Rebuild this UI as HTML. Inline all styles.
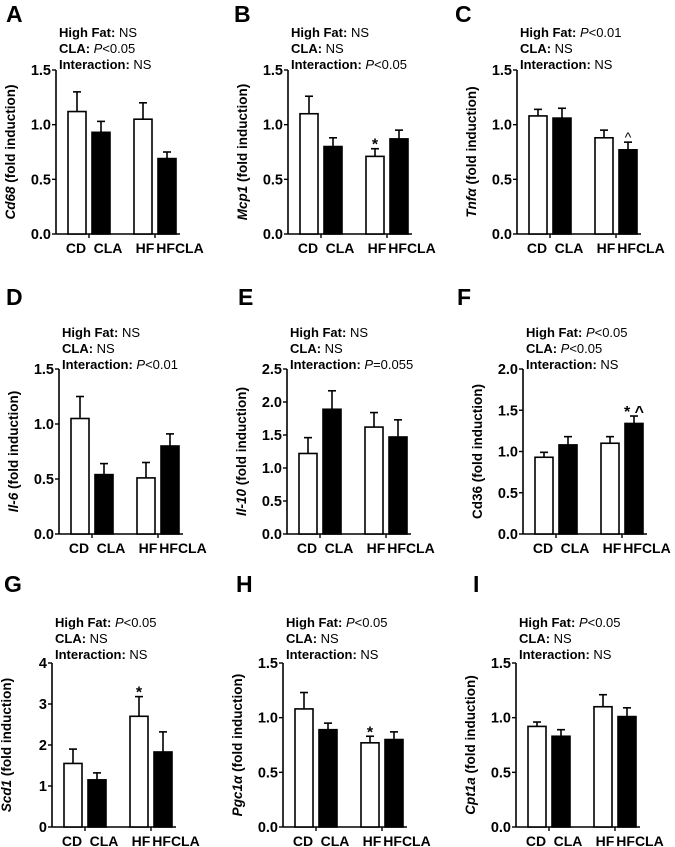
<!DOCTYPE html>
<html><head><meta charset="utf-8"><style>
html,body{margin:0;padding:0;background:#fff;}
svg{display:block;font-family:"Liberation Sans",Arial,sans-serif;}
</style></head><body>
<svg id="fig" width="675" height="847" viewBox="0 0 675 847" xmlns="http://www.w3.org/2000/svg"></svg>
<script>
const categories = ["CD","CLA","HF","HFCLA"];
const meansA = [1.12,0.93,1.05,0.69]; const errA = [1.30,1.03,1.20,0.75];
const meansB = [1.10,0.80,0.71,0.87]; const errB = [1.26,0.88,0.78,0.95];
const meansC = [1.08,1.06,0.88,0.77]; const errC = [1.14,1.15,0.95,0.84];
const meansD = [1.05,0.54,0.51,0.80]; const errD = [1.25,0.64,0.65,0.91];
const meansE = [1.22,1.89,1.62,1.47]; const errE = [1.46,2.17,1.84,1.73];
const meansF = [0.93,1.08,1.10,1.34]; const errF = [0.99,1.18,1.18,1.43];
const meansG = [1.55,1.15,2.70,1.83]; const errG = [1.90,1.32,3.18,2.32];
const meansH = [1.08,0.89,0.77,0.80]; const errH = [1.23,0.95,0.83,0.87];
const meansI = [0.92,0.83,1.10,1.01]; const errI = [0.96,0.89,1.21,1.09];
const ticks15 = ["0.0","0.5","1.0","1.5"];
const ticks25 = ["0.0","0.5","1.0","1.5","2.0","2.5"];
const ticks20 = ["0.0","0.5","1.0","1.5","2.0"];
const ticks4 = ["0","1","2","3","4"];

const panels = [
 {L:"A",lx:6,ly:22,ax:56,top:70,bot:234,max:1.5,ticks:ticks15,m:meansA,e:errA,gene:"Cd68",it:true,s:[["High Fat: ","NS"],["CLA: ","P<0.05"],["Interaction: ","NS"]],ty:37,marks:[]},
 {L:"B",lx:234,ly:22,ax:288,top:70,bot:234,max:1.5,ticks:ticks15,m:meansB,e:errB,gene:"Mcp1",it:true,s:[["High Fat: ","NS"],["CLA: ","NS"],["Interaction: ","P<0.05"]],ty:37,marks:[[2,"*"]]},
 {L:"C",lx:455,ly:22,ax:517,top:70,bot:234,max:1.5,ticks:ticks15,m:meansC,e:errC,gene:"Tnfα",it:true,s:[["High Fat: ","P<0.01"],["CLA: ","NS"],["Interaction: ","NS"]],ty:37,marks:[[3,"^"]]},
 {L:"D",lx:6,ly:305,ax:59,top:369,bot:534,max:1.5,ticks:ticks15,m:meansD,e:errD,gene:"Il-6",it:true,s:[["High Fat: ","NS"],["CLA: ","NS"],["Interaction: ","P<0.01"]],ty:337,marks:[]},
 {L:"E",lx:238,ly:305,ax:287,top:369,bot:534,max:2.5,ticks:ticks25,m:meansE,e:errE,gene:"Il-10",it:true,s:[["High Fat: ","NS"],["CLA: ","NS"],["Interaction: ","P=0.055"]],ty:337,marks:[]},
 {L:"F",lx:457,ly:305,ax:523,top:369,bot:534,max:2.0,ticks:ticks20,m:meansF,e:errF,gene:"Cd36",it:false,s:[["High Fat: ","P<0.05"],["CLA: ","P<0.05"],["Interaction: ","NS"]],ty:337,marks:[[3,"* ^"]]},
 {L:"G",lx:4,ly:592,ax:52,top:663,bot:827,max:4,ticks:ticks4,m:meansG,e:errG,gene:"Scd1",it:true,s:[["High Fat: ","P<0.05"],["CLA: ","NS"],["Interaction: ","NS"]],ty:627,marks:[[2,"*"]]},
 {L:"H",lx:236,ly:592,ax:283,top:663,bot:827,max:1.5,ticks:ticks15,m:meansH,e:errH,gene:"Pgc1α",it:true,s:[["High Fat: ","P<0.05"],["CLA: ","NS"],["Interaction: ","NS"]],ty:627,marks:[[2,"*"]]},
 {L:"I",lx:473,ly:592,ax:516,top:663,bot:827,max:1.5,ticks:ticks15,m:meansI,e:errI,gene:"Cpt1a",it:true,s:[["High Fat: ","P<0.05"],["CLA: ","NS"],["Interaction: ","NS"]],ty:627,marks:[]}
];
const NS="http://www.w3.org/2000/svg";
const svg=document.getElementById('fig');
function mk(tag,attrs,parent){const el=document.createElementNS(NS,tag);for(const k in attrs)el.setAttribute(k,attrs[k]);(parent||svg).appendChild(el);return el;}
const barOff=[12,36,78,102], barW=18, labOff=[20,52,89,124];

panels.forEach(p=>{
  const g=mk('g',{});
  
  
  const yS=v=>p.bot-(v/p.max)*(p.bot-p.top);
  const t=mk('text',{x:p.lx,y:p.ly,'font-size':23,'font-weight':'bold'},g);t.textContent=p.L;
  
  
  p.s.forEach((ln,i)=>{
    const tx=mk('text',{x:p.ax+3,y:p.ty+i*16,'font-size':13},g);
    
    
    const a=mk('tspan',{'font-weight':'bold'},tx);a.textContent=ln[0];
    const v=ln[1];
    if(v[0]==="P"){const b=mk('tspan',{'font-style':'italic'},tx);b.textContent="P";const c=mk('tspan',{},tx);c.textContent=v.slice(1);}
    else{const c=mk('tspan',{},tx);c.textContent=v;}
  });
  const ax=mk('line',{x1:p.ax,y1:p.top,x2:p.ax,y2:p.bot,stroke:'#000','stroke-width':1.6},g);
  
  
  const xa=mk('line',{x1:p.ax,y1:p.bot,x2:p.ax+124,y2:p.bot,stroke:'#000','stroke-width':1.6},g);
  
  
  [33,99].forEach(o=>mk('line',{x1:p.ax+o,y1:p.bot,x2:p.ax+o,y2:p.bot+4,stroke:'#000','stroke-width':1.4},g));
  p.ticks.forEach((tl,i)=>{
    const v=i*p.max/(p.ticks.length-1), y=yS(v);
    mk('line',{x1:p.ax-4,y1:y,x2:p.ax,y2:y,stroke:'#000','stroke-width':1.4},g);
    const tt=mk('text',{x:p.ax-5,y:y+5,'font-size':14.5,'font-weight':'bold','text-anchor':'end'},g);tt.textContent=tl;
    
    
  });
  const cy=(p.top+p.bot)/2, cx=p.ax-41;
  const yt=mk('text',{x:cx,y:cy,'font-size':13.5,'font-weight':'bold','text-anchor':'middle',transform:`rotate(-90 ${cx} ${cy})`},g);
  
  
  const gs=mk('tspan',p.it?{'font-style':'italic'}:{},yt);gs.textContent=p.gene;
  const rs=mk('tspan',{},yt);rs.textContent=" (fold induction)";
  categories.forEach((c,i)=>{
    const x=p.ax+barOff[i], y=yS(p.m[i]), ye=yS(p.e[i]), mid=x+barW/2;
    mk('line',{x1:mid,y1:y,x2:mid,y2:ye,stroke:'#000','stroke-width':1.6},g);
    mk('line',{x1:mid-4,y1:ye,x2:mid+4,y2:ye,stroke:'#000','stroke-width':1.6},g);
    const r=mk('rect',{x:x,y:y,width:barW,height:p.bot-y,fill:(i%2?'#000':'#fff'),stroke:'#000','stroke-width':1.6},g);
    
    
    const xl=mk('text',{x:p.ax+labOff[i],y:p.bot+19,'font-size':14,'font-weight':'bold','text-anchor':'middle'},g);xl.textContent=c;
    
    
  });
  p.marks.forEach(mm=>{
    const i=mm[0], mid=p.ax+barOff[i]+barW/2;
    const st=mk('text',{x:mid,y:yS(p.e[i])+(mm[1]==="^"?0:1),'font-size':mm[1]==="^"?14:16,'font-weight':(mm[1]==="^"?'normal':'bold'),'text-anchor':'middle'},g);st.textContent=mm[1];
    
    
  });
});
</script>
</body></html>
